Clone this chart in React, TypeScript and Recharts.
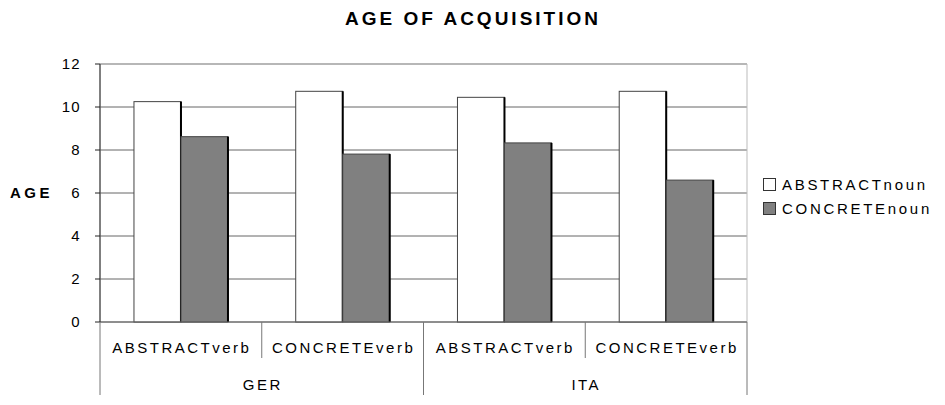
import React from 'react';
import { BarChart, Bar, XAxis, YAxis, CartesianGrid, Legend, ReferenceArea } from 'recharts';

const categories = ['ABSTRACTverb', 'CONCRETEverb', 'ABSTRACTverb', 'CONCRETEverb'];
const groups = ['GER', 'GER', 'ITA', 'ITA'];
const abstractNoun = [10.25, 10.73, 10.45, 10.73];
const concreteNoun = [8.62, 7.81, 8.33, 6.6];
const yTicks = [0, 2, 4, 6, 8, 10, 12];
const seriesNames = ['ABSTRACTnoun', 'CONCRETEnoun'];
const seriesColors = ['#ffffff', '#808080'];
const title = 'AGE OF ACQUISITION';
const yTitle = 'AGE';

const data = categories.map((c, i) => ({
  id: `${groups[i]}-${c}-${i}`,
  cat: c,
  group: groups[i],
  abstractNoun: abstractNoun[i],
  concreteNoun: concreteNoun[i],
}));

const CHART_W = 937;
const CHART_H = 397;
const MARGIN = { top: 56, right: 198, bottom: 0, left: 0 };
const YAXIS_W = 92;
const XAXIS_H = 83;
const FONT = "'Liberation Sans', Arial, sans-serif";
const STEP = (CHART_W - MARGIN.left - MARGIN.right - YAXIS_W) / categories.length;

const BarShape = (props: any) => {
  const { x, y, width, height, fill } = props;
  if (width == null || height == null) return null;
  return (
    <g>
      <rect x={x} y={y} width={width} height={height} fill={fill} stroke="#444" strokeWidth={1} />
      <line x1={x + width} y1={y} x2={x + width} y2={y + height} stroke="#000" strokeWidth={2} />
    </g>
  );
};

const CatTick = (props: any) => {
  const { x, y, index } = props;
  const left = x - STEP / 2;
  const right = x + STEP / 2;
  const isGroupStart = index === 0 || groups[index] !== groups[index - 1];
  const isLast = index === categories.length - 1;
  return (
    <g>
      <line x1={left} y1={y} x2={left} y2={y + (isGroupStart ? 73 : 36)} stroke="#777" strokeWidth={1} />
      {isLast && <line x1={right} y1={y} x2={right} y2={y + 73} stroke="#777" strokeWidth={1} />}
      <text x={x + 1} y={y + 31} textAnchor="middle" fontSize={15} letterSpacing={2.5} fill="#000" fontFamily={FONT}>
        {categories[index]}
      </text>
      {isGroupStart && (
        <text x={right + 1} y={y + 68} textAnchor="middle" fontSize={15} letterSpacing={2.5} fill="#000" fontFamily={FONT}>
          {groups[index]}
        </text>
      )}
    </g>
  );
};

const LegendContent = () => (
  <div style={{ fontFamily: FONT, fontSize: 15, letterSpacing: 2.7, color: '#000' }}>
    {seriesNames.map((n, i) => (
      <div key={n} style={{ display: 'flex', alignItems: 'center', height: 24, whiteSpace: 'nowrap' }}>
        <span
          style={{
            display: 'inline-block',
            width: 11,
            height: 11,
            border: '1px solid #333',
            background: seriesColors[i],
            marginRight: 6,
          }}
        />
        <span>{n}</span>
      </div>
    ))}
  </div>
);

export default function App() {
  return (
    <div style={{ position: 'relative', width: CHART_W, height: CHART_H, fontFamily: FONT }}>
      <svg width={CHART_W} height={30} style={{ position: 'absolute', left: 0, top: 0 }}>
        <text x={465} y={17} textAnchor="middle" fontSize={19} fontWeight="bold" letterSpacing={3} fill="#000" fontFamily={FONT}>
          {title}
        </text>
      </svg>
      <BarChart
        width={CHART_W}
        height={CHART_H}
        data={data}
        margin={MARGIN}
        barCategoryGap="21%"
        barGap={0}
        style={{ position: 'absolute', left: 0, top: 0 }}
      >
        <CartesianGrid vertical={false} stroke="#666" strokeWidth={1} />
        <ReferenceArea y1={0} y2={12} fill="none" stroke="#bbb" strokeWidth={1} ifOverflow="visible" />
        <XAxis
          dataKey="id"
          height={XAXIS_H}
          tickLine={false}
          tickSize={0}
          tickMargin={0}
          axisLine={{ stroke: '#666' }}
          tick={<CatTick />}
          interval={0}
        />
        <YAxis
          width={YAXIS_W}
          domain={[0, 12]}
          ticks={yTicks}
          tickSize={5}
          tickMargin={14}
          axisLine={{ stroke: '#222' }}
          tickLine={{ stroke: '#222' }}
          tick={{ fontSize: 15, fill: '#000', fontFamily: FONT, letterSpacing: 1.3 }}
          label={{
            value: yTitle,
            position: 'insideLeft',
            offset: 2,
            style: { fontSize: 15, fontWeight: 'bold', letterSpacing: 3.5, fill: '#000', fontFamily: FONT },
          }}
        />
        <Legend
          layout="vertical"
          align="center"
          verticalAlign="middle"
          wrapperStyle={{ left: 755, top: 164, width: 180 }}
          content={<LegendContent />}
        />
        <Bar dataKey="abstractNoun" name={seriesNames[0]} fill={seriesColors[0]} shape={<BarShape />} isAnimationActive={false} />
        <Bar dataKey="concreteNoun" name={seriesNames[1]} fill={seriesColors[1]} shape={<BarShape />} isAnimationActive={false} />
      </BarChart>
    </div>
  );
}
